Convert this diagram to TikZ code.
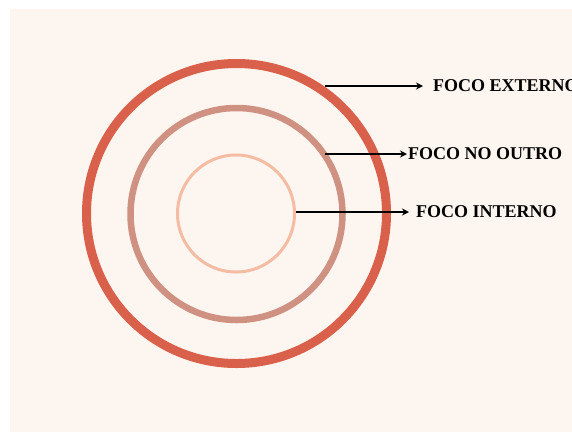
\documentclass[tikz,border=0pt]{standalone}
\usepackage{fontspec}
\setmainfont{Liberation Serif}
\usetikzlibrary{arrows.meta}
\definecolor{bgcream}{HTML}{FDF5EF}
\definecolor{ringouter}{HTML}{D9604A}
\definecolor{ringmid}{HTML}{CF9182}
\definecolor{ringinner}{HTML}{F5BBA3}
\tikzset{
  ring/.style={circle, draw, inner sep=0pt, outer sep=0pt},
  pointer/.style={line width=1.6pt, -{Stealth[length=7pt,width=7pt]}},
  lbl/.style={anchor=west, inner sep=0pt, font=\fontsize{18}{20}\selectfont\bfseries}
}
\begin{document}
\begin{tikzpicture}[x=1pt,y=-1pt]
\useasboundingbox (0,0) rectangle (572,432);
\fill[white] (0,0) rectangle (572,432);
\fill[bgcream] (10,9) rectangle (572,432);
\node[ring, draw=ringouter, line width=9pt, minimum size=300pt] (outer) at (236.5,213.5) {};
\node[ring, draw=ringmid, line width=6.5pt, minimum size=212pt] (mid) at (236.5,214) {};
\node[ring, draw=ringinner, line width=3pt, minimum size=117pt] (inner) at (236,213.5) {};
\coordinate (s1) at (325,86);
\coordinate (e1) at (423,86);
\coordinate (s2) at (325,154);
\coordinate (e2) at (407,154);
\coordinate (s3) at (296,212);
\coordinate (e3) at (409,212);
\node[lbl] (l1) at (433,86) {FOCO EXTERNO};
\node[lbl] (l2) at (408,154) {FOCO NO OUTRO};
\node[lbl] (l3) at (416,212) {FOCO INTERNO};
\draw[pointer] (s1) -- (e1);
\draw[pointer] (s2) -- (e2);
\draw[pointer] (s3) -- (e3);
\end{tikzpicture}
\end{document}
